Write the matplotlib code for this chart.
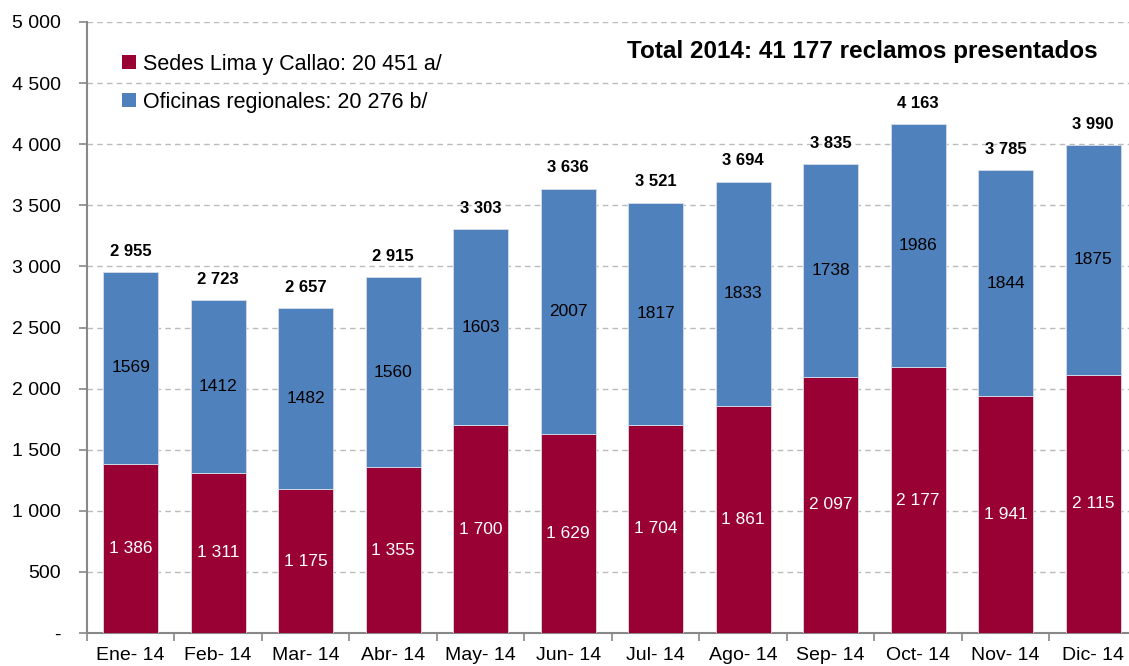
import matplotlib
matplotlib.use("Agg")
import matplotlib.pyplot as plt
from matplotlib.patches import Patch
from matplotlib.ticker import FuncFormatter

months = ["Ene- 14", "Feb- 14", "Mar- 14", "Abr- 14", "May- 14", "Jun- 14",
          "Jul- 14", "Ago- 14", "Sep- 14", "Oct- 14", "Nov- 14", "Dic- 14"]
lima = [1386, 1311, 1175, 1355, 1700, 1629, 1704, 1861, 2097, 2177, 1941, 2115]
regional = [1569, 1412, 1482, 1560, 1603, 2007, 1817, 1833, 1738, 1986, 1844, 1875]
totals = [2955, 2723, 2657, 2915, 3303, 3636, 3521, 3694, 3835, 4163, 3785, 3990]
legend_labels = ["Sedes Lima y Callao: 20 451 a/", "Oficinas regionales: 20 276 b/"]
title_text = "Total 2014: 41 177 reclamos presentados"

RED = "#990033"
BLUE = "#4F81BD"

plt.rcParams['font.family'] = ['Liberation Sans', 'DejaVu Sans']

fig = plt.figure(figsize=(11.29, 6.66), dpi=100)
ax = fig.add_axes([0.077, 0.0495, 0.930, 0.9175])

x = list(range(len(months)))
w = 0.63
ax.bar(x, lima, width=w, color=RED, edgecolor="#d8dce8", linewidth=0.6, zorder=3)
ax.bar(x, regional, width=w, bottom=lima, color=BLUE, edgecolor="#d8dce8", linewidth=0.6, zorder=3)

def fmt(v):
    return f"{v:,}".replace(",", " ")

for i in x:
    ax.text(i, lima[i] / 2, fmt(lima[i]), ha="center", va="center", color="white", fontsize=12.5, zorder=4)
    ax.text(i, lima[i] + regional[i] / 2, str(regional[i]), ha="center", va="center", color="black", fontsize=12.5, zorder=4)
    ax.text(i, totals[i] + 170, fmt(totals[i]), ha="center", va="center", color="black", fontsize=12, fontweight="bold", zorder=4)

ax.set_xlim(-0.5, len(months) - 0.5)
ax.set_ylim(0, 5000)
ax.set_yticks(range(0, 5001, 500))
ax.yaxis.set_major_formatter(FuncFormatter(lambda v, p: "-" if v == 0 else fmt(int(v))))
ax.grid(axis="y", linestyle=(0, (4, 3)), color="#bbbbbb", linewidth=1, zorder=0)

ax.set_xticks(x)
ax.set_xticklabels(months)
ax.set_xticks([i - 0.5 for i in x] + [len(months) - 0.5], minor=True)
ax.tick_params(axis="x", which="major", length=0, pad=10, labelsize=14)
ax.tick_params(axis="x", which="minor", length=6, color="#888888", width=1.2)
ax.tick_params(axis="y", length=6, color="#888888", width=1.2, labelsize=14, pad=13)

for s in ["top", "right"]:
    ax.spines[s].set_visible(False)
ax.spines["left"].set_color("#888888")
ax.spines["left"].set_linewidth(1.5)
ax.spines["bottom"].set_color("#888888")
ax.spines["bottom"].set_linewidth(1.5)

handles = [Patch(facecolor=RED), Patch(facecolor=BLUE)]
ax.legend(handles, legend_labels, loc="upper left", bbox_to_anchor=(0.015, 0.98), frameon=False,
          fontsize=15.5, handlelength=0.65, handleheight=0.65, handletextpad=0.3, labelspacing=0.8)

ax.text(0.963, 0.951, title_text, transform=ax.transAxes, ha="right", va="center",
        fontsize=17.5, fontweight="bold")

fig.savefig("out.png", dpi=100)
